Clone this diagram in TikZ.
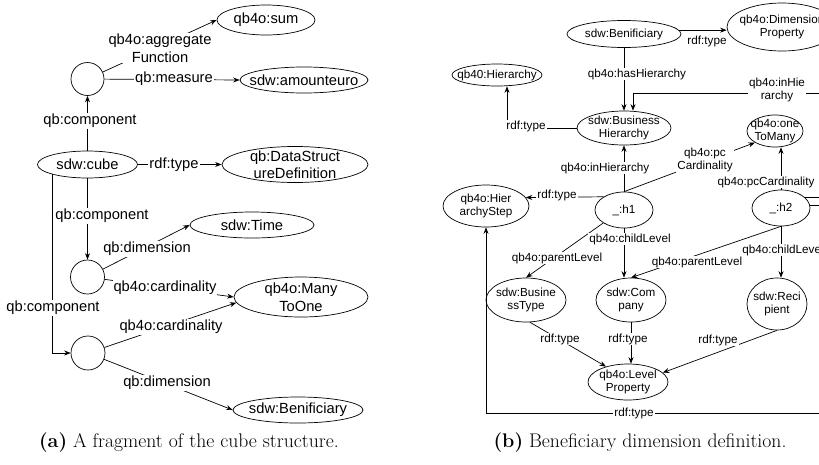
\documentclass[tikz,border=0pt]{standalone}
\usepackage{fontspec}
\newfontfamily\sansf{Liberation Sans}
\usetikzlibrary{shapes.geometric,arrows.meta,calc}
\tikzset{
  fa/.style={font=\sansf\fontsize{14.7}{17.5}\selectfont},
  fb/.style={font=\sansf\fontsize{11.7}{13.3}\selectfont},
  ellA/.style={draw, ellipse, inner sep=0pt, line width=0.7pt, label={[fa,align=center]center:{#1}}},
  ellB/.style={draw, ellipse, inner sep=0pt, line width=0.7pt, label={[fb,align=center]center:{#1}}},
  blank/.style={draw, circle, inner sep=0pt, line width=0.7pt, minimum size=33},
  lblA/.style={fa, fill=white, inner sep=1pt, align=center},
  lblB/.style={fb, fill=white, inner sep=1pt, align=center},
  arr/.style={draw, line width=0.7pt, -{Stealth[length=6.5pt,width=5pt]}},
  capt/.style={font=\fontsize{19.7}{23}\selectfont, inner sep=0pt, anchor=base},
}
\begin{document}
\begin{tikzpicture}[x=1pt,y=-1pt]
\useasboundingbox (0,0) rectangle (819,464);
% ---------- panel (a) ----------
\node[ellA={qb4o:sum}, minimum width=98, minimum height=30] (sum) at (266,20) {};
\node[ellA={sdw:amounteuro}, minimum width=128, minimum height=26] (amt) at (304,80) {};
\node[blank] (c1) at (87.5,79) {};
\node[ellA={sdw:cube}, minimum width=100, minimum height=27] (cube) at (87.5,164.5) {};
\node[ellA={qb:DataStruct\\ureDefinition}, minimum width=146, minimum height=36] (dsd) at (295,164.5) {};
\node[blank, minimum size=34] (c2) at (87.5,277) {};
\node[ellA={sdw:Time}, minimum width=124, minimum height=26] (time) at (252,225) {};
\node[ellA={qb4o:Many\\ToOne}, minimum width=134, minimum height=40] (mto) at (301,297) {};
\node[blank, minimum size=34] (c3) at (88,353) {};
\node[ellA={sdw:Benificiary}, minimum width=130, minimum height=26] (bena) at (298,410) {};

\draw[arr] (c1) -- (sum.west);
\draw[arr] (c1) -- (amt.west);
\draw[arr] (cube.north) -- (c1.south);
\draw[arr] (cube.east) -- (dsd.west);
\draw[arr] (cube.south) -- (c2.north);
\draw[arr] (c2) -- (time.west);
\draw[arr] (c2) -- (mto.west);
\draw[arr] (cube.south west) |- (c3.west);
\draw[arr] (c3) -- (mto.185);
\draw[arr] (c3) -- (bena.west);

\node[lblA] (la1) at (160,48) {qb4o:aggregate\\Function};
\node[lblA] (la2) at (174,79) {qb:measure};
\node[lblA] (la3) at (90,121) {qb:component};
\node[lblA] (la4) at (174,164.5) {rdf:type};
\node[lblA] (la5) at (102,216) {qb:component};
\node[lblA] (la6) at (147,249) {qb:dimension};
\node[lblA] (la7) at (165,288) {qb4o:cardinality};
\node[lblA] (la8) at (53,308) {qb:component};
\node[lblA] (la9) at (171,327) {qb4o:cardinality};
\node[lblA] (la10) at (167,383) {qb:dimension};

\node[capt] (capa) at (189,447) {\textbf{(a)} A fragment of the cube structure.};

% ---------- panel (b) ----------
\node[ellB={sdw:Benificiary}, minimum width=114, minimum height=27] (benb) at (624,34) {};
\node[ellB={qb4o:Dimension\\Property}, minimum width=110, minimum height=48] (dp) at (782,27) {};
\node[ellB={qb40:Hierarchy}, minimum width=90, minimum height=22] (hier) at (497,75) {};
\node[ellB={sdw:Business\\Hierarchy}, minimum width=94, minimum height=34] (bh) at (624,128) {};
\node[ellB={qb4o:one\\ToMany}, minimum width=56, minimum height=32] (otm) at (775,131) {};
\node[ellB={\_:h1}, minimum width=58, minimum height=36] (h1) at (624,210) {};
\node[ellB={\_:h2}, minimum width=58, minimum height=36] (h2) at (781,208) {};
\node[ellB={qb4o:Hier\\archyStep}, minimum width=86, minimum height=42] (hs) at (486,206) {};
\node[ellB={sdw:Busine\\ssType}, minimum width=80, minimum height=44] (bt) at (526,300) {};
\node[ellB={sdw:Com\\pany}, minimum width=70, minimum height=44] (comp) at (631,300) {};
\node[ellB={sdw:Reci\\pient}, minimum width=60, minimum height=52] (rec) at (777,304) {};
\node[ellB={qb4o:Level\\Property}, minimum width=80, minimum height=36] (lp) at (628,382) {};

\coordinate (r1) at (835,93);
\coordinate (r2) at (835,413);
\coordinate (bhin) at ([xshift=9]bh.north);
\coordinate (hierin) at ([xshift=10]hier.south);

\draw[arr] (benb.4) -- (benb.4 -| dp.west);
\draw[arr] (benb.south) -- (bh.north);
\draw[arr] (bh.west) -| (hierin);
\draw[arr] (h1.north) -- (bh.south);
\draw[arr] (h1.north) -- (otm.south west);
\draw[arr] (h2.north) -- (h2.north |- otm.south);
\draw[arr] (h1.147) -- (hs.12);
\draw[arr] (h2.25) -- (h2.25 -| r1) -- (r1) -- (bhin |- r1) -- (bhin);
\draw[arr] (h2.5) -- (h2.5 -| r2) -- (r2) -| (hs.south);
\draw[arr] (h1.south) -- (h1.south |- comp.north);
\draw[arr] (h1.south west) -- (bt.north);
\draw[arr] (h2.south) -- (comp.north);
\draw[arr] (h2.south) -- (h2.south |- rec.north);
\draw[arr] (bt.-80) -- (lp.145);
\draw[arr] (comp.south) -- (comp.south |- lp.north);
\draw[arr] (rec.south) -- (lp.15);

\node[lblB] (lb1) at (707,41) {rdf:type};
\node[lblB] (lb2) at (637,74) {qb4o:hasHierarchy};
\node[lblB] (lb3) at (526,126) {rdf:type};
\node[lblB] (lb4) at (605,168) {qb4o:inHierarchy};
\node[lblB] (lb5) at (705,160) {qb4o:pc\\Cardinality};
\node[lblB] (lb6) at (766,182) {qb4o:pcCardinality};
\node[lblB] (lb7) at (557,195) {rdf:type};
\node[lblB] (lb8) at (777,90) {qb4o:inHie\\rarchy};
\node[lblB] (lb9) at (634,413) {rdf:type};
\node[lblB] (lb10) at (630,239) {qb4o:childLevel};
\node[lblB] (lb11) at (557,258) {qb4o:parentLevel};
\node[lblB] (lb12) at (697,262) {qb4o:parentLevel};
\node[lblB] (lb13) at (783,250) {qb4o:childLevel};
\node[lblB] (lb14) at (560,339) {rdf:type};
\node[lblB] (lb15) at (628,339) {rdf:type};
\node[lblB] (lb16) at (718,340) {rdf:type};

\node[capt] (capb) at (640,447) {\textbf{(b)} Beneficiary dimension definition.};
\end{tikzpicture}
\end{document}
